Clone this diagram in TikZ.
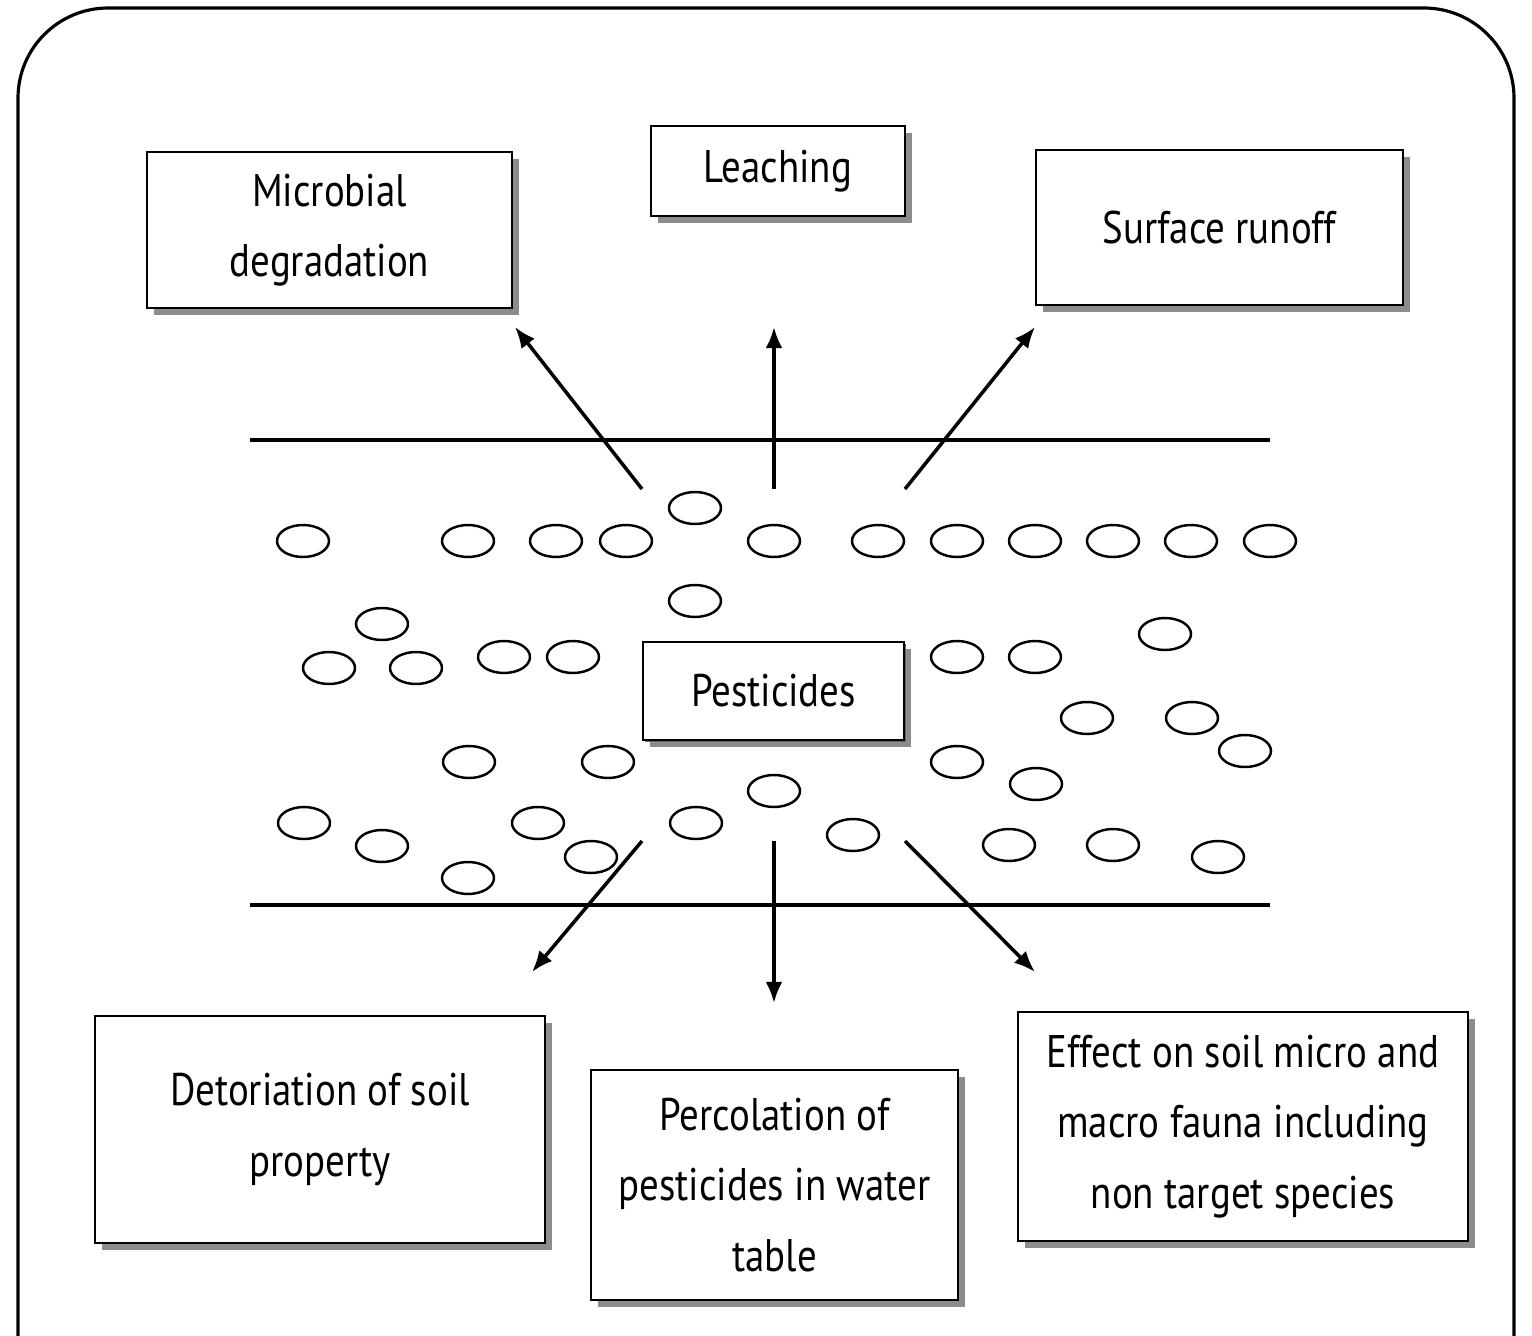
\documentclass[tikz,border=0pt]{standalone}
\usepackage{fontspec}
\setmainfont[FakeStretch=0.85]{PT Sans}
\usetikzlibrary{arrows.meta,shadows}
\tikzset{
  effectbox/.style={draw, line width=0.6pt, fill=white, align=center, inner sep=0pt,
    font=\fontsize{13}{20}\selectfont,
    drop shadow={shadow xshift=2pt, shadow yshift=-2pt, fill=black!45, opacity=1}},
  grain/.style={line width=0.7pt},
  flow/.style={line width=1pt, -{Latex[length=6pt,width=4.8pt]}},
}

\begin{document}
\begin{tikzpicture}[x=0.01cm, y=-0.01cm]
        \useasboundingbox (0,0) rectangle (1532,1336);
        % Outer frame, open at the bottom
        \draw[line width=0.9pt, rounded corners=0.9cm] (18,1336) -- (18,8) -- (1514,8) -- (1514,1336);
        % Boxes above the soil layer
        \node[effectbox, minimum width=3.65cm, minimum height=1.56cm] (micro) at (329.5,230) {Microbial\\degradation};
        \node[effectbox, minimum width=2.54cm, minimum height=0.90cm] (leach) at (778,171) {Leaching};
        \node[effectbox, minimum width=3.67cm, minimum height=1.55cm] (runoff) at (1219.5,227.5) {Surface runoff};
        % Boxes below the soil layer
        \node[effectbox, minimum width=4.50cm, minimum height=2.27cm] (detor) at (320,1129.5) {Detoriation of soil\\property};
        \node[effectbox, minimum width=3.67cm, minimum height=2.30cm] (perc) at (774.5,1185) {Percolation of\\pesticides in water\\table};
        \node[effectbox, minimum width=4.50cm, minimum height=2.29cm] (fauna) at (1243,1126.5) {Effect on soil micro and\\macro fauna including\\non target species};
        % Soil layer boundaries
        \coordinate (topL) at (250,440);
        \coordinate (topR) at (1270,440);
        \coordinate (botL) at (250,905);
        \coordinate (botR) at (1270,905);
        \draw[line width=0.9pt] (topL) -- (topR);
        \draw[line width=0.9pt] (botL) -- (botR);
        % Pesticide grains
        \foreach \x/\y in {303/541, 468/541, 556/541, 626/541, 774/541, 878/541, 957/541,
                           1035/541, 1113/541, 1191/541, 1270/541, 695/508, 695/601,
                           382/624, 329/668, 416/668, 504/657, 573/657,
                           957/657, 1035/657, 1165/634, 1087/718, 1192/718, 1245/751,
                           469/762, 608/762, 957/762, 1036/784, 774/791,
                           304/823, 382/846, 538/823, 468/878, 591/857, 696/823,
                           853/835, 1009/845, 1113/845, 1218/857}
          \draw[grain] (\x,\y) ellipse [x radius=26, y radius=16];
        \node[effectbox, drop shadow={shadow xshift=0.6pt, shadow yshift=-0.6pt, fill=black!60, opacity=1},
              minimum width=2.61cm, minimum height=0.98cm] (pest) at (773.5,691) {Pesticides};
        % Arrow ends
        \coordinate (upL) at (642,489);
        \coordinate (upC) at (774,489);
        \coordinate (upR) at (905,489);
        \coordinate (tipMicro) at (515,327);
        \coordinate (tipLeach) at (774,327);
        \coordinate (tipRunoff) at (1035,327);
        \coordinate (dnL) at (642,841);
        \coordinate (dnC) at (774,841);
        \coordinate (dnR) at (905,841);
        \coordinate (tipDetor) at (532,972);
        \coordinate (tipPerc) at (774,1003);
        \coordinate (tipFauna) at (1035,972);
        \draw[flow] (upL) -- (tipMicro);
        \draw[flow] (upC) -- (tipLeach);
        \draw[flow] (upR) -- (tipRunoff);
        \draw[flow] (dnL) -- (tipDetor);
        \draw[flow] (dnC) -- (tipPerc);
        \draw[flow] (dnR) -- (tipFauna);
\end{tikzpicture}
\end{document}
